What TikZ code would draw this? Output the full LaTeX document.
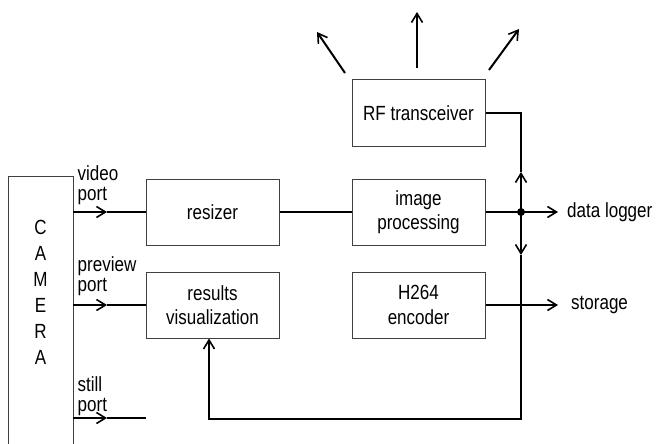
\documentclass[tikz,border=0pt]{standalone}
\usepackage{fontspec}
\setmainfont{Liberation Sans}[FakeStretch=0.83]
\usetikzlibrary{arrows.meta}
\begin{document}
\begin{tikzpicture}[x=1pt,y=-1pt,
  font=\fontsize{20.5}{24.5}\selectfont,
  blk/.style={draw=black!75, line width=1pt, minimum width=133pt, minimum height=66pt, align=center, inner sep=0pt},
  conn/.style={line width=2pt, black},
  tip/.style={-{Straight Barb[length=9pt,width=11pt,line width=1.6pt]}},
  lbl/.style={anchor=base west, inner sep=0pt},
  cam/.style={inner sep=0pt}]
\useasboundingbox (0,0) rectangle (656,444);
% camera
\draw[black!75, line width=1pt] (8,444) -- (8,176) -- (73,176) -- (73,444);
\foreach \l/\yy [count=\i] in {C/227,A/253,M/279,E/305,R/331,A/357}
  \node[cam] (cam\i) at (40.5,\yy) {\l};
% blocks
\node[blk] (res) at (212.5,212) {resizer};
\node[blk] (vis) at (212.5,305) {results\\visualization};
\node[blk] (img) at (418.5,212) {image\\processing};
\node[blk] (enc) at (418.5,305) {H264\\encoder};
\node[blk] (rf) at (418.5,113) {RF transceiver};
% camera port coordinates
\coordinate (vp) at (73,212);
\coordinate (pp) at (73,305);
\coordinate (sp) at (73,418);
\coordinate (vpm) at (107,212);
\coordinate (ppm) at (107,305);
\coordinate (spm) at (107,418);
\coordinate (spe) at (146,418);
% port labels
\node[lbl] (vlab1) at (77.5,180) {video};
\node[lbl] (vlab2) at (77.5,200) {port};
\node[lbl] (plab1) at (77.5,271) {preview};
\node[lbl] (plab2) at (77.5,291) {port};
\node[lbl] (slab1) at (77.5,391) {still};
\node[lbl] (slab2) at (77.5,411) {port};
% ports
\draw[conn, tip] (vp) -- (vpm);
\draw[conn] (vpm) -- (res.west);
\draw[conn, tip] (pp) -- (ppm);
\draw[conn] (ppm) -- (vis.west);
\draw[conn, tip] (sp) -- (spm);
\draw[conn] (spm) -- (spe);
% main chain
\draw[conn] (res.east) -- (img.west);
\coordinate (jn) at (521,212);
\coordinate (dl) at (558,212);
\coordinate (up) at (521,172);
\coordinate (rfc) at (521,113);
\coordinate (dn) at (521,255);
\coordinate (br) at (521,419);
\coordinate (bl) at (209,419);
\draw[conn] (img.east) -- (jn);
\draw[conn, tip] (jn) -- (dl);
\node[anchor=west, inner sep=0pt] (dlab) at (567,212) {data logger};
\draw[conn, tip] (jn) -- (up);
\draw[conn] (up) -- (rfc) -- (rf.east);
\draw[conn, tip] (jn) -- (dn);
\draw[conn, tip] (dn) -- (br) -- (bl) -- (bl |- vis.south);
\fill (jn) circle (4pt);
% storage
\coordinate (st) at (558,305);
\draw[conn, tip] (enc.east) -- (st);
\node[anchor=west, inner sep=0pt] (slabel) at (571,305) {storage};
% antenna arrows
\coordinate (a1s) at (345,73); \coordinate (a1e) at (317,32);
\coordinate (a2s) at (417,68); \coordinate (a2e) at (417,12);
\coordinate (a3s) at (489,70); \coordinate (a3e) at (519,29);
\draw[conn, tip] (a1s) -- (a1e);
\draw[conn, tip] (a2s) -- (a2e);
\draw[conn, tip] (a3s) -- (a3e);
\end{tikzpicture}
\end{document}
